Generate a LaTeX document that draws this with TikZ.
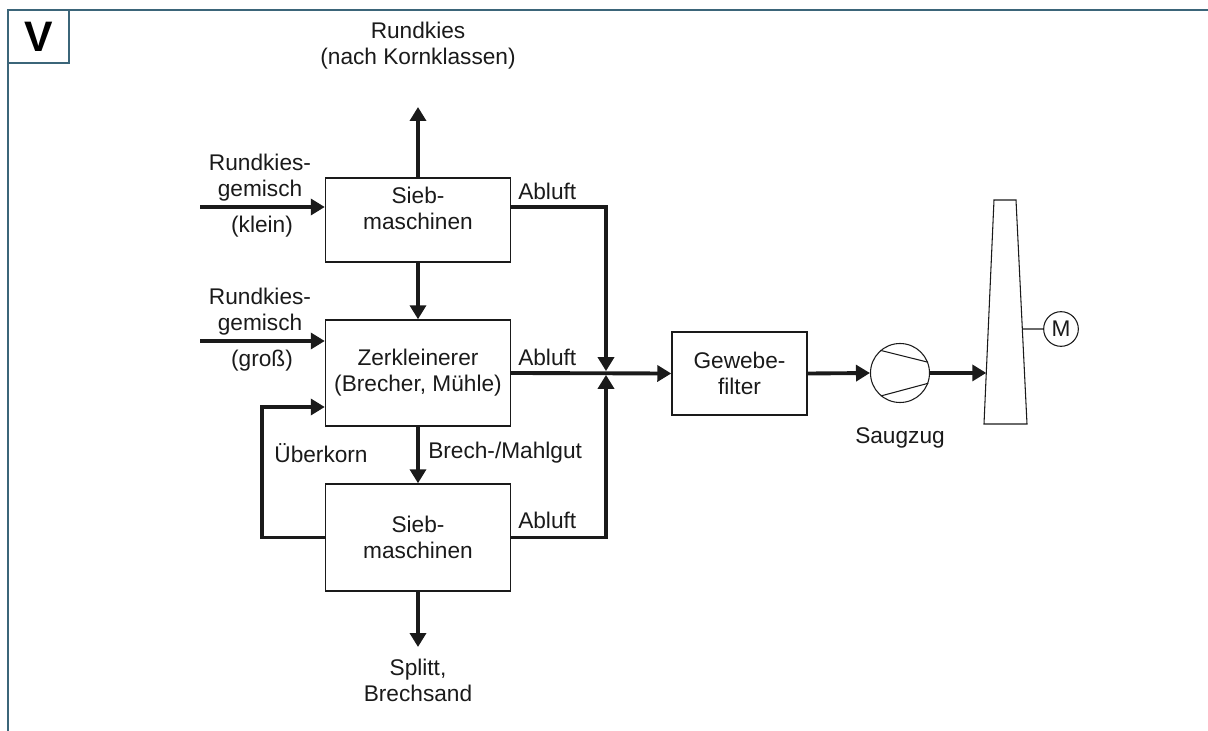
\documentclass[tikz,border=0pt]{standalone}
\usepackage{fontspec}
\setmainfont{Liberation Sans}
\usetikzlibrary{arrows.meta, positioning, calc}
\definecolor{framecol}{RGB}{59,101,121}
\definecolor{linecol}{RGB}{26,26,26}

\begin{document}
\begin{tikzpicture}[x=0.75pt, y=-0.75pt,
      every node/.style={font=\fontsize{17}{19.5}\selectfont, inner sep=0pt, text=linecol},
      processnode/.style={rectangle, draw=linecol, line width=1.1pt, minimum width=138.75pt},
      labelnode/.style={align=center},
      flow/.style={draw=linecol, line width=2.9pt, -{Triangle[length=10.5pt,width=12pt]}},
      thinline/.style={draw=linecol, line width=0.8pt},
      ]
      \useasboundingbox (0,0) rectangle (1208,731);

      %Frame
      \draw[framecol, line width=1.7pt] (8,731) -- (8,10) -- (1208,10);
      \draw[framecol, line width=1.7pt] (8,10) rectangle (69,63);
      \node[font=\fontsize{32}{32}\selectfont\bfseries, text=black] (tag) at (38.5,37) {V};

      %Nodes
      \node[processnode, minimum height=63pt]    (sieb1)  at (418,220) {};
      \node[labelnode]                           (sieb1text) at (418,208) {Sieb-\\maschinen};
      \node[processnode, minimum height=79.5pt, align=center]  (zerk)   at (418,373) {Zerkleinerer\\(Brecher, Mühle)};
      \node[processnode, minimum height=80.25pt, align=center] (sieb2)  at (418,537.5) {Sieb-\\maschinen};
      \node[rectangle, draw=linecol, line width=1.1pt, minimum width=101.25pt, minimum height=62.25pt, align=center]
                                                 (filter) at (739.5,373.5) {Gewebe-\\filter};
      \node[circle, thinline, minimum size=44.25pt] (fan) at (900,373) {};
      \node[circle, thinline, minimum size=26pt]    (motor) at (1061,329) {M};

      %Labels
      \node[labelnode] (outtop)   at (418,45.5) {Rundkies\\(nach Kornklassen)};
      \node[labelnode] (kleintop) at (260,178) {Rundkies-\\gemisch};
      \node            (kleinbot) at (262,227) {(klein)};
      \node[labelnode] (grosstop) at (260,312) {Rundkies-\\gemisch};
      \node            (grossbot) at (262,361) {(groß)};
      \node[anchor=west] (abluft1) at (518,191) {Abluft};
      \node[anchor=west] (abluft2) at (518,357) {Abluft};
      \node[anchor=west] (abluft3) at (518,520) {Abluft};
      \node[anchor=west] (mahlgut) at (428,453) {Brech-/Mahlgut};
      \node              (ueberkorn) at (321,453) {Überkorn};
      \node[labelnode]   (outbot) at (418,680) {Splitt,\\Brechsand};
      \node              (saugzug) at (900,438) {Saugzug};

      %Coordinates
      \coordinate (kleinin) at (200,207);
      \coordinate (grossin) at (200,341);
      \coordinate (topout) at (418,107);
      \coordinate (botout) at (418,647);
      \coordinate (junc) at (606,373);
      \coordinate (loopin) at ($(zerk.west)+(0,34)$);
      \coordinate (chimtl) at (994,200);
      \coordinate (chimtr) at (1016,200);
      \coordinate (chimbr) at (1027,424);
      \coordinate (chimbl) at (984,424);
      \coordinate (chimin) at ($(chimtl)!0.772!(chimbl)$);
      \coordinate (chimout) at ($(chimtr)!0.576!(chimbr)$);

      %Chimney and fan
      \draw[thinline] (chimtl) -- (chimtr) -- (chimbr) -- (chimbl) -- cycle;
      \draw[thinline] (chimout) -- (motor.west);
      \draw[thinline] (fan.131) -- (fan.21);
      \draw[thinline] (fan.230) -- (fan.340);

      %Lines
      \draw[flow] (sieb1.north) -- (topout);
      \draw[flow] (kleinin) -- (kleinin -| sieb1.west);
      \draw[flow] (grossin) -- (grossin -| zerk.west);
      \draw[flow] (sieb1.south) -- (zerk.north);
      \draw[flow] (zerk.south) -- (sieb2.north);
      \draw[flow] (sieb2.south) -- (botout);
      \draw[flow] (sieb2.west) -- ++(-63,0) |- (loopin);
      \draw[flow, shorten >=1.4pt] (kleinin -| sieb1.east) -| (junc);
      \draw[flow, shorten >=1.4pt] (sieb2.east) -| (junc);
      \draw[flow] (zerk.east) -- (filter.west);
      \draw[flow] (filter.east) -- (fan.west);
      \draw[flow] (fan.east) -- (chimin);
    \end{tikzpicture}
\end{document}
